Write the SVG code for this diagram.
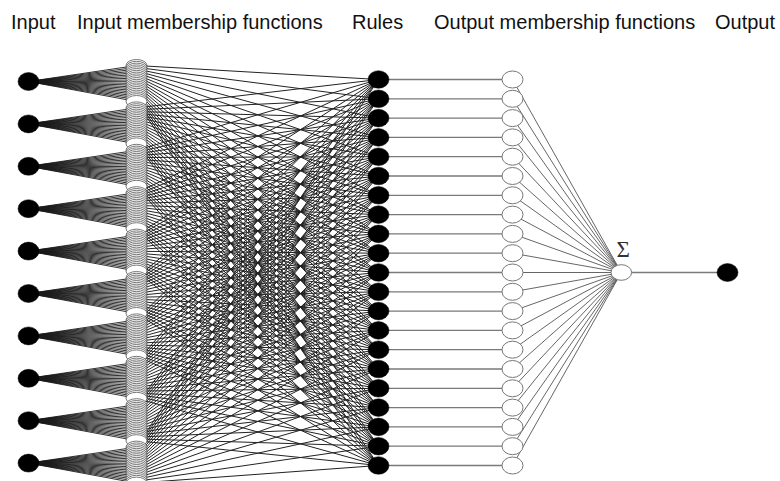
<svg xmlns="http://www.w3.org/2000/svg" xmlns:xlink="http://www.w3.org/1999/xlink" width="780" height="481" viewBox="0 0 780 481">
<style>
.title{font-family:"Liberation Sans",Arial,sans-serif;font-size:20px;fill:#111}
.sig{font-family:"Liberation Serif","DejaVu Serif",serif;font-size:23px;fill:#333}
.fanln{fill:none;stroke:#1a1a1a;stroke-width:0.9}
.mrln{fill:none;stroke:#222;stroke-width:1}
.hl{stroke:#7a7a7a;stroke-width:1.3}
.sl{stroke:#555;stroke-width:0.9}
.blk{fill:#000;stroke:#000;stroke-width:0.5}
.wht{fill:#fff;stroke:#777;stroke-width:1}
.mf{fill:#fff;stroke:#555;stroke-width:0.8}
</style>
<defs>
<path id="fan" vector-effect="non-scaling-stroke" d="M28.5 0L136.5 -16M28.5 0L136.5 -14.2M28.5 0L136.5 -12.4M28.5 0L136.5 -10.6M28.5 0L136.5 -8.8M28.5 0L136.5 -7M28.5 0L136.5 -5.2M28.5 0L136.5 -3.4M28.5 0L136.5 -1.6M28.5 0L136.5 0.2M28.5 0L136.5 2M28.5 0L136.5 3.8M28.5 0L136.5 5.6M28.5 0L136.5 7.4M28.5 0L136.5 9.2M28.5 0L136.5 11M28.5 0L136.5 12.8M28.5 0L136.5 14.6M28.5 0L136.5 16.4M28.5 0L136.5 18.2M28.5 0L136.5 20"/>
<path id="mr" vector-effect="non-scaling-stroke" d="M136.5 -16L378.5 79.5M136.5 -14.2L378.5 98.8M136.5 -12.4L378.5 118.1M136.5 -10.6L378.5 137.4M136.5 -8.8L378.5 156.7M136.5 -7L378.5 176M136.5 -5.2L378.5 195.3M136.5 -3.4L378.5 214.6M136.5 -1.6L378.5 233.9M136.5 0.2L378.5 253.2M136.5 2L378.5 272.5M136.5 3.8L378.5 291.8M136.5 5.6L378.5 311.1M136.5 7.4L378.5 330.4M136.5 9.2L378.5 349.7M136.5 11L378.5 369M136.5 12.8L378.5 388.3M136.5 14.6L378.5 407.6M136.5 16.4L378.5 426.9M136.5 18.2L378.5 446.2M136.5 20L378.5 465.5"/>
<g id="mfblock" class="mf">
<ellipse cx="136.5" cy="-16" rx="10.5" ry="6"/><ellipse cx="136.5" cy="-14.2" rx="10.5" ry="6"/><ellipse cx="136.5" cy="-12.4" rx="10.5" ry="6"/><ellipse cx="136.5" cy="-10.6" rx="10.5" ry="6"/><ellipse cx="136.5" cy="-8.8" rx="10.5" ry="6"/><ellipse cx="136.5" cy="-7" rx="10.5" ry="6"/><ellipse cx="136.5" cy="-5.2" rx="10.5" ry="6"/><ellipse cx="136.5" cy="-3.4" rx="10.5" ry="6"/><ellipse cx="136.5" cy="-1.6" rx="10.5" ry="6"/><ellipse cx="136.5" cy="0.2" rx="10.5" ry="6"/><ellipse cx="136.5" cy="2" rx="10.5" ry="6"/><ellipse cx="136.5" cy="3.8" rx="10.5" ry="6"/><ellipse cx="136.5" cy="5.6" rx="10.5" ry="6"/><ellipse cx="136.5" cy="7.4" rx="10.5" ry="6"/><ellipse cx="136.5" cy="9.2" rx="10.5" ry="6"/><ellipse cx="136.5" cy="11" rx="10.5" ry="6"/><ellipse cx="136.5" cy="12.8" rx="10.5" ry="6"/><ellipse cx="136.5" cy="14.6" rx="10.5" ry="6"/><ellipse cx="136.5" cy="16.4" rx="10.5" ry="6"/><ellipse cx="136.5" cy="18.2" rx="10.5" ry="6"/><ellipse cx="136.5" cy="20" rx="10.5" ry="6"/>
</g>
</defs>
<rect width="780" height="481" fill="#fff"/>
<g id="titles">
<text class="title" x="11" y="29">Input</text>
<text class="title" x="77" y="29">Input membership functions</text>
<text class="title" x="352" y="29">Rules</text>
<text class="title" x="434" y="29">Output membership functions</text>
<text class="title" x="715" y="29">Output</text>
</g>
<g id="connectors">
<g class="fanln">
<use href="#fan" transform="translate(0,81.5)"/>
<use href="#fan" transform="translate(0,123.9)"/>
<use href="#fan" transform="translate(0,166.3)"/>
<use href="#fan" transform="translate(0,208.7)"/>
<use href="#fan" transform="translate(0,251.1)"/>
<use href="#fan" transform="translate(0,293.5)"/>
<use href="#fan" transform="translate(0,335.9)"/>
<use href="#fan" transform="translate(0,378.3)"/>
<use href="#fan" transform="translate(0,420.7)"/>
<use href="#fan" transform="translate(0,463.1)"/>
</g>
<g class="mrln">
<use href="#mr" transform="matrix(1,-0.336777,0,1,0,127.47)"/>
<use href="#mr" transform="matrix(1,-0.511983,0,1,0,193.79)"/>
<use href="#mr" transform="matrix(1,-0.687190,0,1,0,260.10)"/>
<use href="#mr" transform="matrix(1,-0.862397,0,1,0,326.42)"/>
<use href="#mr" transform="matrix(1,-1.037603,0,1,0,392.73)"/>
<use href="#mr" transform="matrix(1,-1.212810,0,1,0,459.05)"/>
<use href="#mr" transform="matrix(1,-1.388017,0,1,0,525.36)"/>
<use href="#mr" transform="matrix(1,-1.563223,0,1,0,591.68)"/>
<use href="#mr" transform="matrix(1,-1.738430,0,1,0,657.99)"/>
<use href="#mr" transform="matrix(1,-1.913636,0,1,0,724.31)"/>
</g>
<path class="hl" fill="none" d="M378.5 79.5H512.5M378.5 98.8H512.5M378.5 118.1H512.5M378.5 137.4H512.5M378.5 156.7H512.5M378.5 176H512.5M378.5 195.3H512.5M378.5 214.6H512.5M378.5 233.9H512.5M378.5 253.2H512.5M378.5 272.5H512.5M378.5 291.8H512.5M378.5 311.1H512.5M378.5 330.4H512.5M378.5 349.7H512.5M378.5 369H512.5M378.5 388.3H512.5M378.5 407.6H512.5M378.5 426.9H512.5M378.5 446.2H512.5M378.5 465.5H512.5"/>
<path class="sl" fill="none" d="M512.5 79.5L621.3 272.5M512.5 98.8L621.3 272.5M512.5 118.1L621.3 272.5M512.5 137.4L621.3 272.5M512.5 156.7L621.3 272.5M512.5 176L621.3 272.5M512.5 195.3L621.3 272.5M512.5 214.6L621.3 272.5M512.5 233.9L621.3 272.5M512.5 253.2L621.3 272.5M512.5 272.5L621.3 272.5M512.5 291.8L621.3 272.5M512.5 311.1L621.3 272.5M512.5 330.4L621.3 272.5M512.5 349.7L621.3 272.5M512.5 369L621.3 272.5M512.5 388.3L621.3 272.5M512.5 407.6L621.3 272.5M512.5 426.9L621.3 272.5M512.5 446.2L621.3 272.5M512.5 465.5L621.3 272.5"/>
<path class="hl" fill="none" d="M621.3 272.5H727.5"/>
</g>
<g id="input-mf">
<use id="mf-in1" href="#mfblock" transform="translate(0,81.5)"/>
<use id="mf-in2" href="#mfblock" transform="translate(0,123.9)"/>
<use id="mf-in3" href="#mfblock" transform="translate(0,166.3)"/>
<use id="mf-in4" href="#mfblock" transform="translate(0,208.7)"/>
<use id="mf-in5" href="#mfblock" transform="translate(0,251.1)"/>
<use id="mf-in6" href="#mfblock" transform="translate(0,293.5)"/>
<use id="mf-in7" href="#mfblock" transform="translate(0,335.9)"/>
<use id="mf-in8" href="#mfblock" transform="translate(0,378.3)"/>
<use id="mf-in9" href="#mfblock" transform="translate(0,420.7)"/>
<use id="mf-in10" href="#mfblock" transform="translate(0,463.1)"/>
</g>
<g id="inputs" class="blk">
<g id="in1"><ellipse cx="28.5" cy="81.5" rx="10.5" ry="9"/></g>
<g id="in2"><ellipse cx="28.5" cy="123.9" rx="10.5" ry="9"/></g>
<g id="in3"><ellipse cx="28.5" cy="166.3" rx="10.5" ry="9"/></g>
<g id="in4"><ellipse cx="28.5" cy="208.7" rx="10.5" ry="9"/></g>
<g id="in5"><ellipse cx="28.5" cy="251.1" rx="10.5" ry="9"/></g>
<g id="in6"><ellipse cx="28.5" cy="293.5" rx="10.5" ry="9"/></g>
<g id="in7"><ellipse cx="28.5" cy="335.9" rx="10.5" ry="9"/></g>
<g id="in8"><ellipse cx="28.5" cy="378.3" rx="10.5" ry="9"/></g>
<g id="in9"><ellipse cx="28.5" cy="420.7" rx="10.5" ry="9"/></g>
<g id="in10"><ellipse cx="28.5" cy="463.1" rx="10.5" ry="9"/></g>
</g>
<g id="rules" class="blk">
<g id="r1"><ellipse cx="378.5" cy="79.5" rx="10.5" ry="8.8"/></g>
<g id="r2"><ellipse cx="378.5" cy="98.8" rx="10.5" ry="8.8"/></g>
<g id="r3"><ellipse cx="378.5" cy="118.1" rx="10.5" ry="8.8"/></g>
<g id="r4"><ellipse cx="378.5" cy="137.4" rx="10.5" ry="8.8"/></g>
<g id="r5"><ellipse cx="378.5" cy="156.7" rx="10.5" ry="8.8"/></g>
<g id="r6"><ellipse cx="378.5" cy="176" rx="10.5" ry="8.8"/></g>
<g id="r7"><ellipse cx="378.5" cy="195.3" rx="10.5" ry="8.8"/></g>
<g id="r8"><ellipse cx="378.5" cy="214.6" rx="10.5" ry="8.8"/></g>
<g id="r9"><ellipse cx="378.5" cy="233.9" rx="10.5" ry="8.8"/></g>
<g id="r10"><ellipse cx="378.5" cy="253.2" rx="10.5" ry="8.8"/></g>
<g id="r11"><ellipse cx="378.5" cy="272.5" rx="10.5" ry="8.8"/></g>
<g id="r12"><ellipse cx="378.5" cy="291.8" rx="10.5" ry="8.8"/></g>
<g id="r13"><ellipse cx="378.5" cy="311.1" rx="10.5" ry="8.8"/></g>
<g id="r14"><ellipse cx="378.5" cy="330.4" rx="10.5" ry="8.8"/></g>
<g id="r15"><ellipse cx="378.5" cy="349.7" rx="10.5" ry="8.8"/></g>
<g id="r16"><ellipse cx="378.5" cy="369" rx="10.5" ry="8.8"/></g>
<g id="r17"><ellipse cx="378.5" cy="388.3" rx="10.5" ry="8.8"/></g>
<g id="r18"><ellipse cx="378.5" cy="407.6" rx="10.5" ry="8.8"/></g>
<g id="r19"><ellipse cx="378.5" cy="426.9" rx="10.5" ry="8.8"/></g>
<g id="r20"><ellipse cx="378.5" cy="446.2" rx="10.5" ry="8.8"/></g>
<g id="r21"><ellipse cx="378.5" cy="465.5" rx="10.5" ry="8.8"/></g>
</g>
<g id="output-mf" class="wht">
<g id="omf1"><ellipse cx="512.5" cy="79.5" rx="10.5" ry="8.5"/></g>
<g id="omf2"><ellipse cx="512.5" cy="98.8" rx="10.5" ry="8.5"/></g>
<g id="omf3"><ellipse cx="512.5" cy="118.1" rx="10.5" ry="8.5"/></g>
<g id="omf4"><ellipse cx="512.5" cy="137.4" rx="10.5" ry="8.5"/></g>
<g id="omf5"><ellipse cx="512.5" cy="156.7" rx="10.5" ry="8.5"/></g>
<g id="omf6"><ellipse cx="512.5" cy="176" rx="10.5" ry="8.5"/></g>
<g id="omf7"><ellipse cx="512.5" cy="195.3" rx="10.5" ry="8.5"/></g>
<g id="omf8"><ellipse cx="512.5" cy="214.6" rx="10.5" ry="8.5"/></g>
<g id="omf9"><ellipse cx="512.5" cy="233.9" rx="10.5" ry="8.5"/></g>
<g id="omf10"><ellipse cx="512.5" cy="253.2" rx="10.5" ry="8.5"/></g>
<g id="omf11"><ellipse cx="512.5" cy="272.5" rx="10.5" ry="8.5"/></g>
<g id="omf12"><ellipse cx="512.5" cy="291.8" rx="10.5" ry="8.5"/></g>
<g id="omf13"><ellipse cx="512.5" cy="311.1" rx="10.5" ry="8.5"/></g>
<g id="omf14"><ellipse cx="512.5" cy="330.4" rx="10.5" ry="8.5"/></g>
<g id="omf15"><ellipse cx="512.5" cy="349.7" rx="10.5" ry="8.5"/></g>
<g id="omf16"><ellipse cx="512.5" cy="369" rx="10.5" ry="8.5"/></g>
<g id="omf17"><ellipse cx="512.5" cy="388.3" rx="10.5" ry="8.5"/></g>
<g id="omf18"><ellipse cx="512.5" cy="407.6" rx="10.5" ry="8.5"/></g>
<g id="omf19"><ellipse cx="512.5" cy="426.9" rx="10.5" ry="8.5"/></g>
<g id="omf20"><ellipse cx="512.5" cy="446.2" rx="10.5" ry="8.5"/></g>
<g id="omf21"><ellipse cx="512.5" cy="465.5" rx="10.5" ry="8.5"/></g>
</g>
<g id="sum">
<ellipse class="wht" cx="621.3" cy="272.5" rx="10.3" ry="7.8"/>
<text class="sig" x="616.5" y="257">Σ</text>
</g>
<g id="output">
<ellipse class="blk" cx="727.5" cy="272.5" rx="10.5" ry="9"/>
</g>
</svg>
